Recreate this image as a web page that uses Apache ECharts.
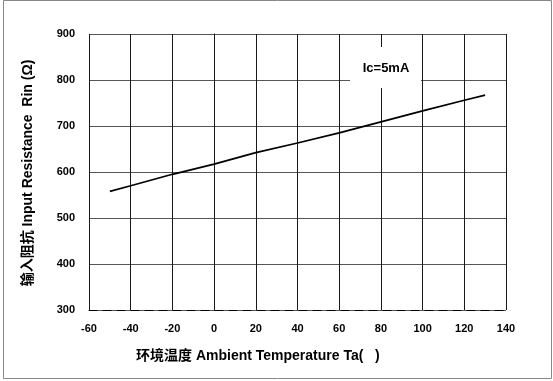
<!DOCTYPE html>
<html>
<head>
<meta charset="utf-8">
<script src="https://cdn.jsdelivr.net/npm/echarts@6/dist/echarts.min.js"></script>
<style>
  html, body { margin: 0; padding: 0; background: #fff; }
  #chart { width: 553px; height: 381px; }
</style>
</head>
<body>
<div id="chart"></div>
<script>
// Input resistance vs. ambient temperature, Ic = 5 mA
const temperatures = [-50, -40, -20, 0, 20, 40, 60, 80, 100, 120, 130];
const resistance   = [558, 570, 595, 617, 642, 663, 685, 709, 733, 756, 767];
const xTicks = [-60, -40, -20, 0, 20, 40, 60, 80, 100, 120, 140];
const yTicks = [300, 400, 500, 600, 700, 800, 900];
const xTitle = '环境温度 Ambient Temperature Ta(   )';
const yTitle = '输入阻抗 Input Resistance  Rin (Ω)';
const curveLabel = 'Ic=5mA';

const FONT = '"Liberation Sans", Arial, "Noto Sans CJK SC", sans-serif';

const chart = echarts.init(document.getElementById('chart'), null, { renderer: 'canvas' });

const tickStyle = { color: '#000', fontFamily: FONT, fontWeight: 'bold', fontSize: 11 };

chart.setOption({
  animation: false,
  backgroundColor: '#fff',
  grid: { left: 89, top: 34, width: 417, height: 276, containLabel: false },
  xAxis: {
    type: 'value',
    min: xTicks[0],
    max: xTicks[xTicks.length - 1],
    interval: xTicks[1] - xTicks[0],
    axisLine: { show: true, lineStyle: { color: '#000', width: 1, type: [8, 6] } },
    axisTick: { show: false },
    axisLabel: { ...tickStyle, margin: 13 },
    splitLine: { show: true, lineStyle: { color: '#1a1a1a', width: 1 } }
  },
  yAxis: {
    type: 'value',
    min: yTicks[0],
    max: yTicks[yTicks.length - 1],
    interval: yTicks[1] - yTicks[0],
    axisLine: { show: true, lineStyle: { color: '#1a1a1a', width: 1 } },
    axisTick: { show: false },
    axisLabel: { ...tickStyle, margin: 14 },
    splitLine: { show: true, lineStyle: { color: '#555', width: 1 } }
  },
  series: [{
    type: 'line',
    data: temperatures.map((t, i) => [t, resistance[i]]),
    showSymbol: false,
    smooth: false,
    lineStyle: { color: '#000', width: 1.7 },
    z: 5
  }],
  graphic: [
    // outer frame
    { type: 'rect', shape: { x: 3.5, y: 0.5, width: 548, height: 378 },
      style: { fill: 'none', stroke: '#888', lineWidth: 1 }, z: 100 },
    // condition label box
    { type: 'rect', shape: { x: 350, y: 47, width: 71, height: 41 },
      style: { fill: '#fff' }, z: 50 },
    { type: 'text', x: 386, y: 68,
      style: { text: curveLabel, fill: '#000', font: 'bold 13px ' + FONT,
               textAlign: 'center', textVerticalAlign: 'middle' }, z: 51 },
    // axis titles
    { type: 'text', x: 136, y: 356,
      style: { text: xTitle, fill: '#000', font: 'bold 14px ' + FONT,
               textAlign: 'left', textVerticalAlign: 'middle' }, z: 51 },
    { type: 'text', x: 28, y: 173, rotation: Math.PI / 2,
      style: { text: yTitle, fill: '#000', font: 'bold 14px ' + FONT,
               textAlign: 'center', textVerticalAlign: 'middle' }, z: 51 }
  ]
});
</script>
</body>
</html>
